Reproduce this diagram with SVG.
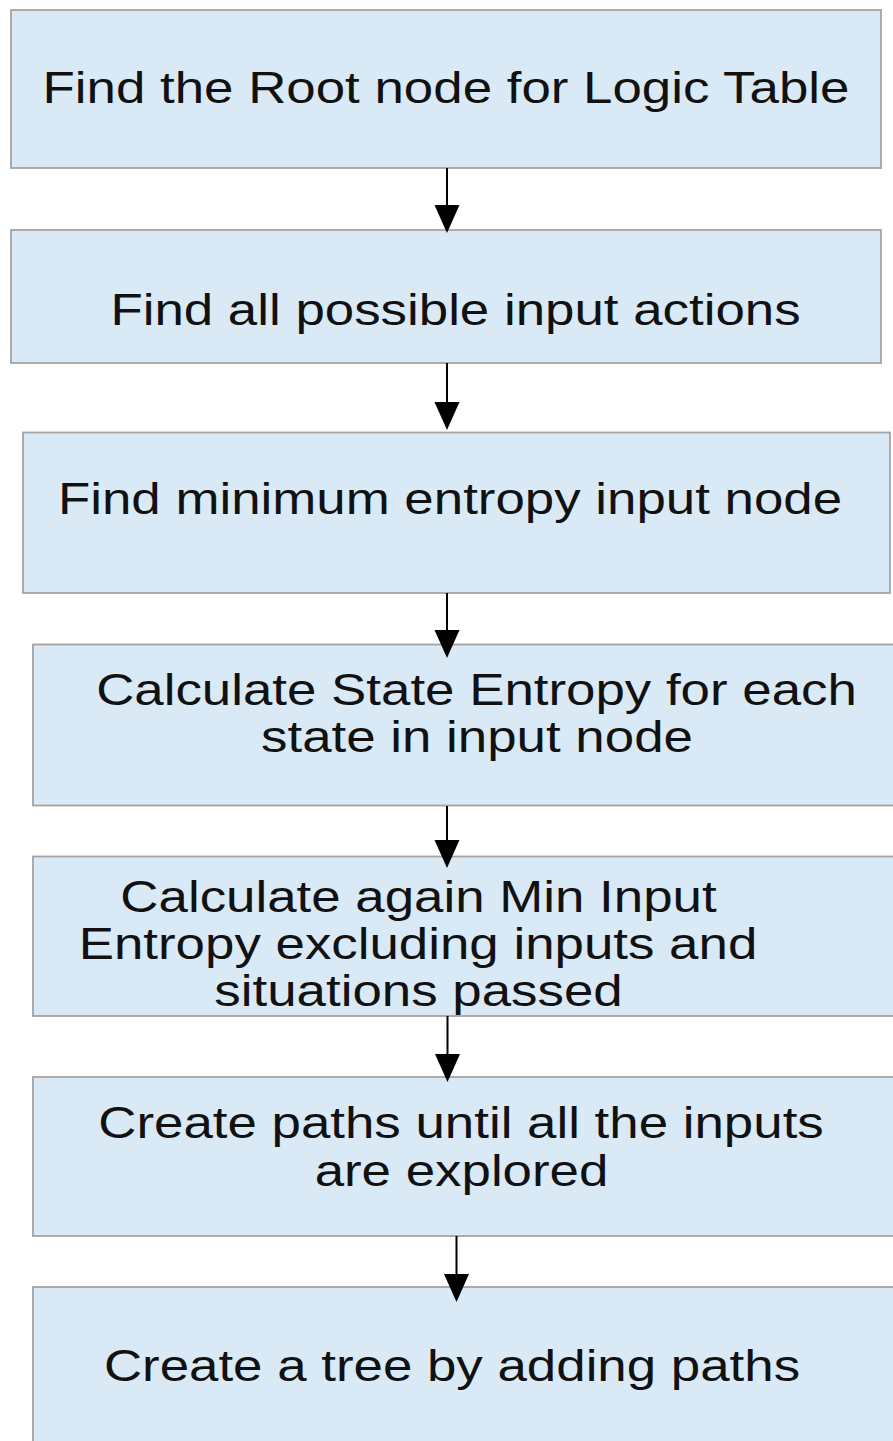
<svg xmlns="http://www.w3.org/2000/svg" width="893" height="1441" viewBox="0 0 893 1441">
<style>
.box{fill:#dae9f6;stroke:#a3a3a3;stroke-width:1.8}
.t{font-family:"Liberation Sans",Arial,sans-serif;font-size:43.5px;fill:#111;text-anchor:middle}
.c{stroke:#000;stroke-width:2;fill:none}
.h{fill:#000;stroke:none}
</style>
<rect x="0" y="0" width="893" height="1441" fill="#fff"/>
<g id="node1"><rect class="box" x="11" y="10" width="870" height="158"/><text class="t" transform="translate(446 103) scale(1.215 1)">Find the Root node for Logic Table</text></g>
<g id="node2"><rect class="box" x="11" y="230" width="870" height="133"/><text class="t" transform="translate(455.5 325) scale(1.215 1)">Find all possible input actions</text></g>
<g id="node3"><rect class="box" x="23" y="432.5" width="867" height="160.5"/><text class="t" transform="translate(450 514) scale(1.215 1)">Find minimum entropy input node</text></g>
<g id="node4"><rect class="box" x="33" y="644.5" width="880" height="161"/><text class="t" transform="translate(476.5 705) scale(1.215 1)">Calculate State Entropy for each</text><text class="t" transform="translate(477 752) scale(1.215 1)">state in input node</text></g>
<g id="node5"><rect class="box" x="33" y="856.5" width="880" height="159.5"/><text class="t" transform="translate(418.5 912) scale(1.215 1)">Calculate again Min Input</text><text class="t" transform="translate(418 959) scale(1.215 1)">Entropy excluding inputs and</text><text class="t" transform="translate(418.5 1006) scale(1.215 1)">situations passed</text></g>
<g id="node6"><rect class="box" x="33" y="1077" width="880" height="159"/><text class="t" transform="translate(461 1138) scale(1.215 1)">Create paths until all the inputs</text><text class="t" transform="translate(461.5 1186) scale(1.215 1)">are explored</text></g>
<g id="node7"><rect class="box" x="33" y="1287" width="880" height="170"/><text class="t" transform="translate(452 1381) scale(1.215 1)">Create a tree by adding paths</text></g>
<g id="connectors">
<line class="c" x1="447" y1="168" x2="447" y2="206"/><polygon class="h" points="434.5,205 459.5,205 447,233"/>
<line class="c" x1="447" y1="363" x2="447" y2="403"/><polygon class="h" points="434.5,402 459.5,402 447,430"/>
<line class="c" x1="447" y1="593" x2="447" y2="631"/><polygon class="h" points="434.5,630 459.5,630 447,658"/>
<line class="c" x1="447" y1="806" x2="447" y2="841"/><polygon class="h" points="434.5,840 459.5,840 447,868"/>
<line class="c" x1="447.5" y1="1016" x2="447.5" y2="1055"/><polygon class="h" points="435,1054 460,1054 447.5,1082"/>
<line class="c" x1="456.5" y1="1236" x2="456.5" y2="1275"/><polygon class="h" points="444,1274 469,1274 456.5,1302"/>
</g>
</svg>
